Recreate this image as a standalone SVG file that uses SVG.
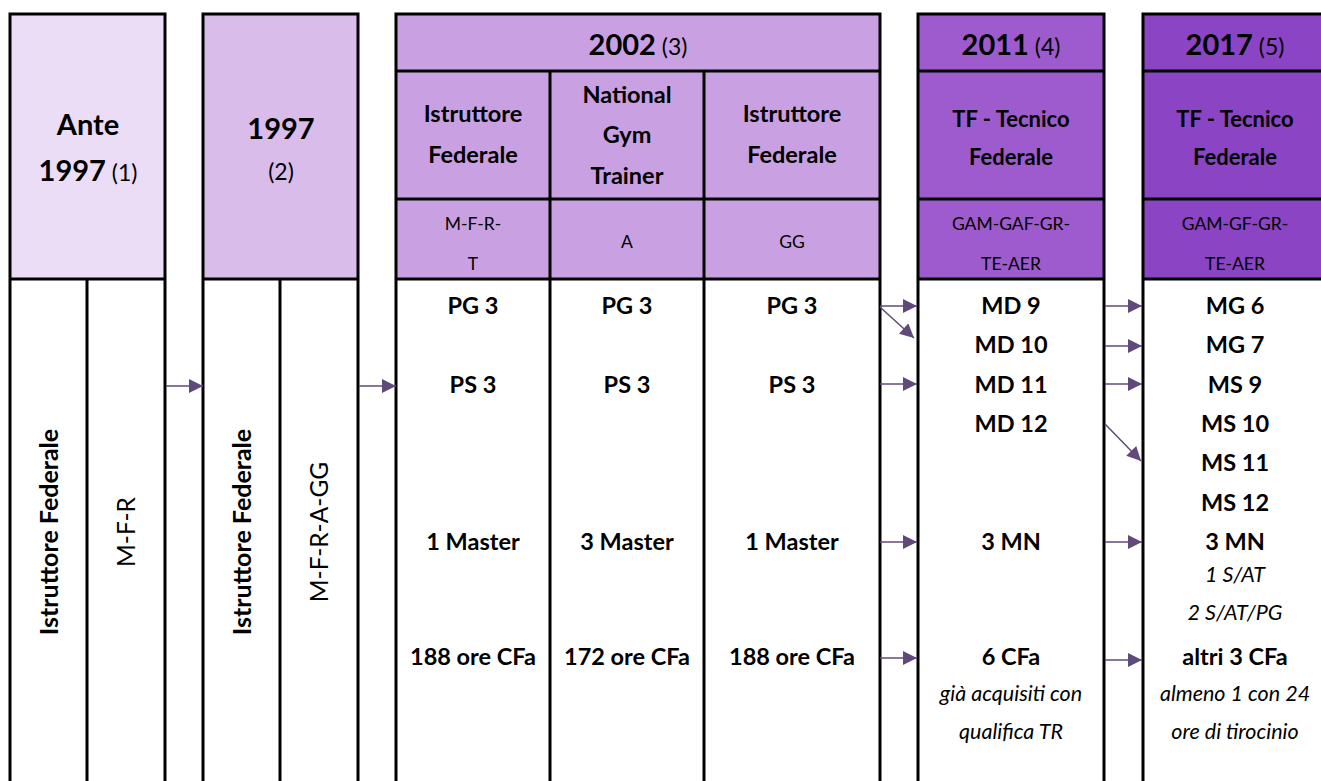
<svg xmlns="http://www.w3.org/2000/svg" width="1321" height="781" viewBox="0 0 1321 781">
<style>
text{font-family:Lato,"Liberation Sans",sans-serif;fill:#000;text-anchor:middle}
.b{font-weight:700;font-size:23.5px}
.vb{font-weight:700;font-size:25px}
.r{font-weight:400;font-size:24.5px}
.i{font-style:italic;font-size:21.5px}
.y{font-weight:700;font-size:29px}
.n{font-weight:400;font-size:23px}
.t2{font-weight:700;font-size:22px}
.c{font-weight:400;font-size:17.5px}
.bd{fill:none;stroke:#000;stroke-width:3}
.ln{stroke:#000;stroke-width:3}
.ar{stroke:#604A7B;stroke-width:1.5;fill:none;marker-end:url(#ah)}
</style>
<defs>
<marker id="ah" viewBox="0 0 10 10" refX="10" refY="5" markerWidth="15" markerHeight="14" markerUnits="userSpaceOnUse" orient="auto">
<path d="M0,0 L10,5 L0,10 z" fill="#604A7B"/>
</marker>
</defs>
<rect width="1321" height="781" fill="#fff"/>

<g id="box-ante1997">
<rect x="10" y="14" width="155" height="265" fill="#EBDDF5"/>
<rect x="10" y="14" width="155" height="772" class="bd"/>
<line x1="10" y1="279" x2="165" y2="279" class="ln"/>
<line x1="87" y1="279" x2="87" y2="786" class="ln"/>
<text x="88" y="135" class="y">Ante</text>
<text x="88" y="181" class="y">1997<tspan class="n"> (1)</tspan></text>
<text class="vb" transform="translate(48,532) rotate(-90)" dominant-baseline="central">Istruttore Federale</text>
<text class="r" transform="translate(125,532) rotate(-90)" dominant-baseline="central">M-F-R</text>
</g>

<g id="box-1997">
<rect x="203" y="14" width="155" height="265" fill="#D9BCEA"/>
<rect x="203" y="14" width="155" height="772" class="bd"/>
<line x1="203" y1="279" x2="358" y2="279" class="ln"/>
<line x1="280" y1="279" x2="280" y2="786" class="ln"/>
<text x="281" y="139" class="y">1997</text>
<text x="281" y="180" class="n">(2)</text>
<text class="vb" transform="translate(241,532) rotate(-90)" dominant-baseline="central">Istruttore Federale</text>
<text class="r" transform="translate(318,532) rotate(-90)" dominant-baseline="central">M-F-R-A-GG</text>
</g>

<g id="box-2002">
<rect x="396" y="14" width="484" height="265" fill="#C9A0E1"/>
<rect x="396" y="14" width="484" height="772" class="bd"/>
<line x1="396" y1="71" x2="880" y2="71" class="ln"/>
<line x1="396" y1="199" x2="880" y2="199" class="ln"/>
<line x1="396" y1="279" x2="880" y2="279" class="ln"/>
<line x1="550" y1="71" x2="550" y2="786" class="ln"/>
<line x1="704" y1="71" x2="704" y2="786" class="ln"/>
<text x="638" y="55" class="y">2002<tspan class="n"> (3)</tspan></text>
<text x="473" y="122" class="b">Istruttore</text>
<text x="473" y="163" class="b">Federale</text>
<text x="627" y="103" class="b">National</text>
<text x="627" y="143" class="b">Gym</text>
<text x="627" y="184" class="b">Trainer</text>
<text x="792" y="122" class="b">Istruttore</text>
<text x="792" y="163" class="b">Federale</text>
<text x="473" y="230" class="c">M-F-R-</text>
<text x="473" y="270" class="c">T</text>
<text x="627" y="248" class="c">A</text>
<text x="792" y="248" class="c">GG</text>
<text x="473" y="314" class="b">PG 3</text>
<text x="627" y="314" class="b">PG 3</text>
<text x="792" y="314" class="b">PG 3</text>
<text x="473" y="393" class="b">PS 3</text>
<text x="627" y="393" class="b">PS 3</text>
<text x="792" y="393" class="b">PS 3</text>
<text x="473" y="550" class="b">1 Master</text>
<text x="627" y="550" class="b">3 Master</text>
<text x="792" y="550" class="b">1 Master</text>
<text x="473" y="665" class="b">188 ore CFa</text>
<text x="627" y="665" class="b">172 ore CFa</text>
<text x="792" y="665" class="b">188 ore CFa</text>
</g>

<g id="box-2011">
<rect x="918" y="14" width="186" height="265" fill="#9D5BCD"/>
<rect x="918" y="14" width="186" height="772" class="bd"/>
<line x1="918" y1="71" x2="1104" y2="71" class="ln"/>
<line x1="918" y1="199" x2="1104" y2="199" class="ln"/>
<line x1="918" y1="279" x2="1104" y2="279" class="ln"/>
<text x="1011" y="55" class="y">2011<tspan class="n"> (4)</tspan></text>
<text x="1011" y="127" class="t2">TF - Tecnico</text>
<text x="1011" y="165" class="t2">Federale</text>
<text x="1011" y="230" class="c">GAM-GAF-GR-</text>
<text x="1011" y="270" class="c">TE-AER</text>
<text x="1011" y="314" class="b">MD 9</text>
<text x="1011" y="353" class="b">MD 10</text>
<text x="1011" y="393" class="b">MD 11</text>
<text x="1011" y="432" class="b">MD 12</text>
<text x="1011" y="550" class="b">3 MN</text>
<text x="1011" y="665" class="b">6 CFa</text>
<text x="1011" y="701" class="i">già acquisiti con</text>
<text x="1011" y="739" class="i">qualifica TR</text>
</g>

<g id="box-2017">
<rect x="1143" y="14" width="184" height="265" fill="#8A44C4"/>
<rect x="1143" y="14" width="184" height="772" class="bd"/>
<line x1="1143" y1="71" x2="1327" y2="71" class="ln"/>
<line x1="1143" y1="199" x2="1327" y2="199" class="ln"/>
<line x1="1143" y1="279" x2="1327" y2="279" class="ln"/>
<text x="1235" y="55" class="y">2017<tspan class="n"> (5)</tspan></text>
<text x="1235" y="127" class="t2">TF - Tecnico</text>
<text x="1235" y="165" class="t2">Federale</text>
<text x="1235" y="230" class="c">GAM-GF-GR-</text>
<text x="1235" y="270" class="c">TE-AER</text>
<text x="1235" y="314" class="b">MG 6</text>
<text x="1235" y="353" class="b">MG 7</text>
<text x="1235" y="393" class="b">MS 9</text>
<text x="1235" y="432" class="b">MS 10</text>
<text x="1235" y="471" class="b">MS 11</text>
<text x="1235" y="511" class="b">MS 12</text>
<text x="1235" y="550" class="b">3 MN</text>
<text x="1235" y="582" class="i">1 S/AT</text>
<text x="1235" y="620" class="i">2 S/AT/PG</text>
<text x="1235" y="665" class="b">altri 3 CFa</text>
<text x="1235" y="701" class="i">almeno 1 con 24</text>
<text x="1235" y="739" class="i">ore di tirocinio</text>
</g>

<g id="connectors">
<line x1="166" y1="386" x2="203" y2="386" class="ar"/>
<line x1="359" y1="386" x2="396" y2="386" class="ar"/>
<line x1="880" y1="306" x2="917" y2="306" class="ar"/>
<line x1="880" y1="307" x2="914" y2="338" class="ar"/>
<line x1="880" y1="384" x2="917" y2="384" class="ar"/>
<line x1="880" y1="542" x2="917" y2="542" class="ar"/>
<line x1="880" y1="658" x2="917" y2="658" class="ar"/>
<line x1="1105" y1="306" x2="1142" y2="306" class="ar"/>
<line x1="1105" y1="346" x2="1142" y2="346" class="ar"/>
<line x1="1105" y1="384" x2="1142" y2="384" class="ar"/>
<line x1="1105" y1="424" x2="1141" y2="461" class="ar"/>
<line x1="1105" y1="542" x2="1142" y2="542" class="ar"/>
<line x1="1105" y1="660" x2="1142" y2="660" class="ar"/>
</g>
</svg>
